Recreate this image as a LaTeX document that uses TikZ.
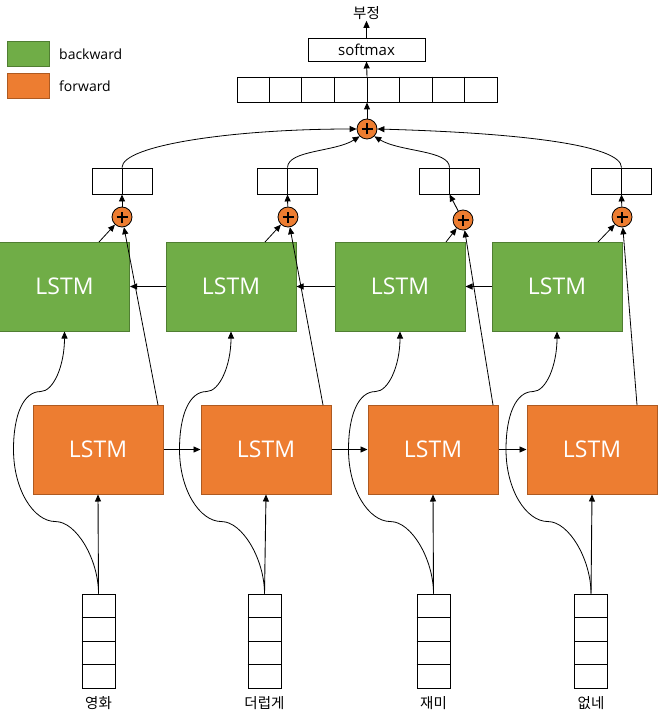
\documentclass[tikz,border=0pt]{standalone}
\usepackage{fontspec}
\setmainfont{Open Sans}
\newfontfamily\kr{Noto Sans CJK KR}
\usetikzlibrary{arrows.meta,calc}
\definecolor{gfill}{HTML}{70AD47}
\definecolor{gline}{HTML}{507E32}
\definecolor{ofill}{HTML}{ED7D31}
\definecolor{oline}{HTML}{AE5A21}
\begin{document}
\begin{tikzpicture}[x=1pt,y=-1pt,
  gbox/.style={draw=gline, fill=gfill, line width=1pt, minimum width=130pt, minimum height=89pt, inner sep=0pt, text=white, font=\fontsize{23}{27}\selectfont},
  obox/.style={draw=oline, fill=ofill, line width=1pt, minimum width=130pt, minimum height=89pt, inner sep=0pt, text=white, font=\fontsize{23}{27}\selectfont},
  cell/.style={draw, line width=0.9pt, fill=white, inner sep=0pt},
  arr/.style={-{Triangle[length=7pt,width=6pt]}, line width=0.9pt},
  conn/.style={line width=0.8pt},
  plus/.style={circle, draw, fill=ofill, minimum size=20pt, inner sep=0pt, line width=0.8pt,
    path picture={\draw[line width=1.7pt] ([xshift=-5.5pt]path picture bounding box.center) -- ([xshift=5.5pt]path picture bounding box.center);
                  \draw[line width=1.7pt] ([yshift=-5.5pt]path picture bounding box.center) -- ([yshift=5.5pt]path picture bounding box.center);}},
  lbl/.style={font=\fontsize{14}{16}\selectfont, inner sep=1pt},
  krl/.style={font=\kr\fontsize{14.5}{16}\selectfont, inner sep=1pt}
]
\useasboundingbox (0,0) rectangle (658,722);

% legend
\node[draw=gline, fill=gfill, line width=1pt, minimum width=42pt, minimum height=25pt, inner sep=0pt] (lgg) at (28,54.5) {};
\node[lbl, anchor=west] (lggt) at (58,54.5) {backward};
\node[draw=oline, fill=ofill, line width=1pt, minimum width=42pt, minimum height=25pt, inner sep=0pt] (lgo) at (28,86.5) {};
\node[lbl, anchor=west] (lgot) at (58,86.5) {forward};

% top
\node[krl] (neg) at (366.5,13) {부정};
\node[cell, minimum width=117pt, minimum height=23pt, font=\fontsize{15}{17}\selectfont] (sm) at (366.5,49.5) {softmax};
\node[cell, minimum width=260pt, minimum height=25pt] (bar) at (367,89.5) {};
\foreach \k in {1,...,7}
  \draw[line width=0.9pt] ($(bar.north west)!\k/8!(bar.north east)$) -- ($(bar.south west)!\k/8!(bar.south east)$);
\node[plus] (P) at (367,129) {};
\draw[arr] (P) -- (bar.south);
\draw[arr] (bar.north) -- (sm.south);
\draw[arr] (sm.north) -- (neg.south);

% columns
\foreach \i/\gx/\ox/\vx/\sx/\px/\py/\word in {1/64.5/98/98.5/122/122/217/영화, 2/231/266/264.5/287.5/288/217/더럽게, 3/400/433/433.5/449.5/463/220/재미, 4/557/592/591/621.5/622/217/없네}{
  \node[gbox] (g\i) at (\gx,286.5) {LSTM};
  \node[obox] (o\i) at (\ox,449.5) {LSTM};
  \node[cell, minimum width=33pt, minimum height=94pt] (v\i) at (\vx,641) {};
  \foreach \f in {0.25,0.5,0.75}
    \draw[line width=0.9pt] ($(v\i.north west)!\f!(v\i.south west)$) -- ($(v\i.north east)!\f!(v\i.south east)$);
  \node[krl] (w\i) at (\vx,703) {\word};
  \node[cell, minimum width=60pt, minimum height=26pt] (s\i) at (\sx,181) {};
  \draw[line width=0.9pt] (s\i.north) -- (s\i.south);
  \node[plus] (p\i) at (\px,\py) {};
  \draw[arr] (v\i.north) -- (o\i.south);
  \draw[arr] (p\i) -- (s\i.south);
  \draw[arr, conn] (v\i.north) .. controls ++(0,-34) and ($(v\i.north)+(-22,-72)$) .. ($(v\i.north)+(-43,-72)$)
     .. controls ($(v\i.north)+(-65,-72)$) and ($(v\i.north)+(-85,-104)$) .. ($(v\i.north)+(-85,-144)$)
     .. controls ($(v\i.north)+(-85,-179)$) and ($(v\i.north)+(-75,-202)$) .. ($(v\i.north)+(-58,-202)$)
     .. controls ($(v\i.north)+(-45,-202)$) and ($(g\i.south)+(0,34)$) .. (g\i.south);
}

% recurrent connections
\draw[arr] (o1.east) -- (o2.west);
\draw[arr] (o2.east) -- (o3.west);
\draw[arr] (o3.east) -- (o4.west);
\draw[arr] (g2.west) -- (g1.east);
\draw[arr] (g3.west) -- (g2.east);
\draw[arr] (g4.west) -- (g3.east);

% into small plus
\coordinate (gb1) at (99,242);  \coordinate (fb1) at (158,405);
\coordinate (gb2) at (265,242); \coordinate (fb2) at (323,405);
\coordinate (gb3) at (446,242); \coordinate (fb3) at (493,405);
\coordinate (gb4) at (598,242); \coordinate (fb4) at (637,405);
\foreach \i in {1,...,4}{
  \draw[arr, conn] (gb\i) -- (p\i);
  \draw[arr, conn] (fb\i) -- (p\i);
}

% to big plus
\draw[arr, conn] (s1.north) .. controls (122,145) and (235,129) .. (P.west);
\draw[arr, conn] (s2.north) .. controls (288,150) and (335,152) .. (P.south west);
\draw[arr, conn] (s3.north) .. controls (449.5,150) and (400,152) .. (P.south east);
\draw[arr, conn] (s4.north) .. controls (621.5,145) and (520,133) .. (P.east);
\end{tikzpicture}
\end{document}
